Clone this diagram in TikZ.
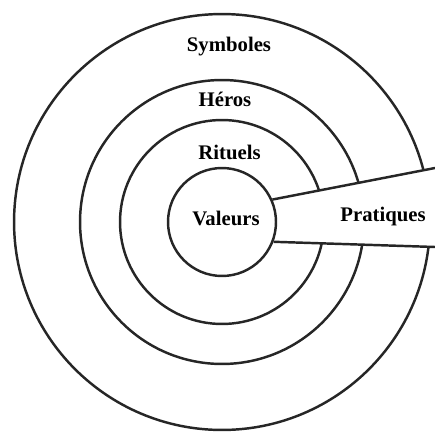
\documentclass[tikz,border=0pt]{standalone}
\usepackage{fontspec}
\setmainfont{Liberation Serif}
\usepackage{tikz}
\usetikzlibrary{positioning}

\begin{document}
\begin{tikzpicture}[
    x=0.02cm, y=-0.02cm,
    ring/.style={draw=black!85, line width=1.4pt, circle, inner sep=0pt},
    lbl/.style={anchor=base, font=\bfseries\fontsize{11.8}{14}\selectfont},
    cut/.style={draw=black!85, line width=1.4pt}
]
\useasboundingbox (0,0) rectangle (435,432);
% Rings, outside in
\coordinate (c) at (222,222);
\node[ring, minimum size=8.32cm] (symboles) at (c) {};
\node[ring, minimum size=5.68cm] (heros) at (c) {};
\node[ring, minimum size=4.08cm] (rituels) at (c) {};
% Practices cut through the rings
\coordinate (ptop) at (435,168);
\coordinate (pbot) at (435,247);
\coordinate (vtop) at (271.3,200);
\coordinate (vbot) at (272.4,241.4);
\fill[white] (vtop) -- (ptop) -- (pbot) -- (vbot) -- (c) -- cycle;
\node[ring, fill=white, minimum size=2.16cm] (valeurs) at (c) {};
\draw[cut] (valeurs.24) -- (ptop);
\draw[cut] (valeurs.-21) -- (pbot);
% Labels
\node[lbl] (tsym) at (229,52) {Symboles};
\node[lbl] (ther) at (225,107) {Héros};
\node[lbl] (trit) at (229.5,159) {Rituels};
\node[lbl] (tval) at (226,225) {Valeurs};
\node[lbl] (tpra) at (383,221) {Pratiques};
\end{tikzpicture}
\end{document}
